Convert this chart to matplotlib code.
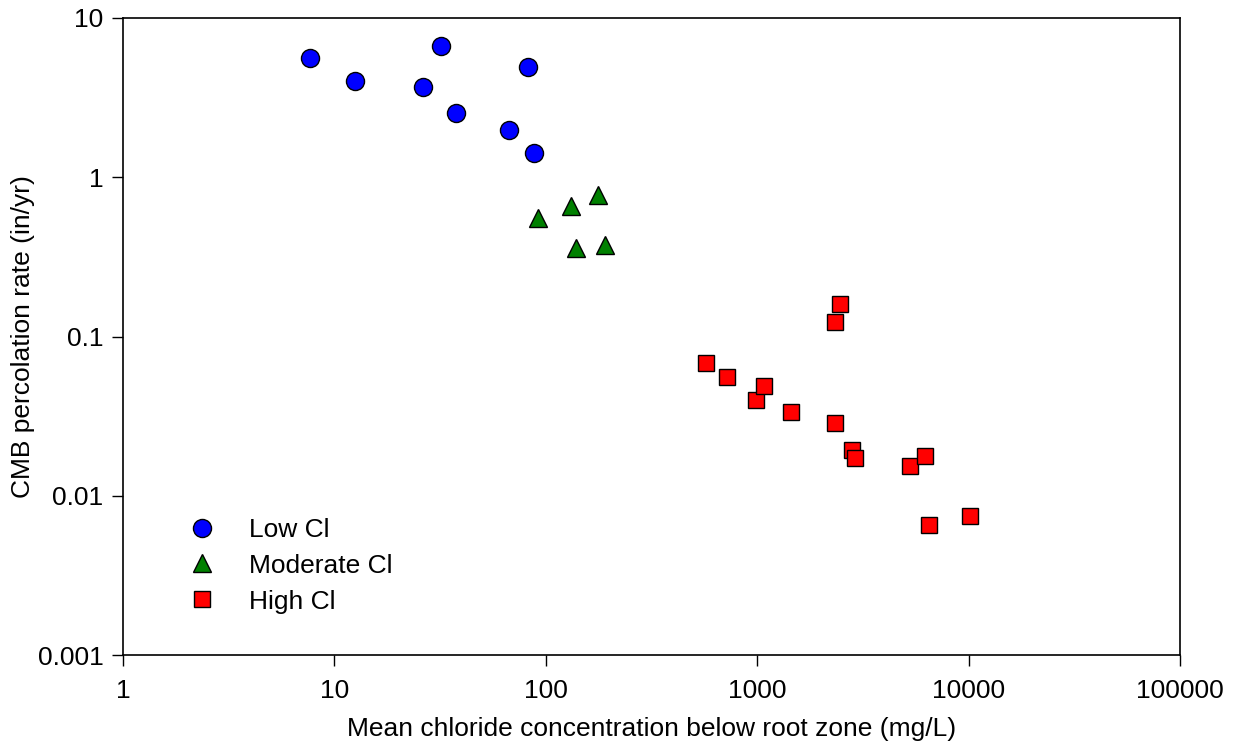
import numpy as np
import matplotlib.pyplot as plt

plt.rcParams['font.family'] = ['Liberation Sans', 'DejaVu Sans']

# Low Cl
low_x = [7.7, 12.5, 31.9, 26.2, 37.6, 82.4, 67, 88]
low_y = [5.6, 4.0, 6.67, 3.69, 2.53, 4.92, 1.98, 1.42]
# Moderate Cl
mod_x = [91.8, 131, 177, 139, 190]
mod_y = [0.555, 0.66, 0.77, 0.36, 0.376]
# High Cl
high_x = [573, 720, 987, 1077, 1445, 2335, 2466, 2335, 2806, 2900, 5280, 6220, 6500, 10160]
high_y = [0.068, 0.0557, 0.040, 0.0489, 0.0336, 0.123, 0.16, 0.0286, 0.0194, 0.0173,
          0.0154, 0.0178, 0.00655, 0.00746]

fig = plt.figure(figsize=(12.37, 7.47), dpi=100)
ax = fig.add_axes([0.0994, 0.123, 0.8546, 0.853])

ax.plot(low_x, low_y, 'o', color='#0000ff', mec='black', mew=1, ms=13, label='Low Cl', linestyle='none')
ax.plot(mod_x, mod_y, '^', color='#008000', mec='black', mew=1, ms=13, label='Moderate Cl', linestyle='none')
ax.plot(high_x, high_y, 's', color='#ff0000', mec='black', mew=1, ms=11.5, label='High Cl', linestyle='none')

ax.set_xscale('log')
ax.set_yscale('log')
ax.set_xlim(1, 100000)
ax.set_ylim(0.001, 10)
ax.set_xticks([1, 10, 100, 1000, 10000, 100000])
ax.set_xticklabels(['1', '10', '100', '1000', '10000', '100000'])
ax.set_yticks([0.001, 0.01, 0.1, 1, 10])
ax.set_yticklabels(['0.001', '0.01', '0.1', '1', '10'])
ax.minorticks_off()
ax.tick_params(direction='out', length=8, width=1, labelsize=19, pad=6)
ax.tick_params(axis='x', pad=9)
for s in ax.spines.values():
    s.set_linewidth(1.2)

ax.set_xlabel('Mean chloride concentration below root zone (mg/L)', fontsize=19, labelpad=10)
ax.set_ylabel('CMB percolation rate (in/yr)', fontsize=19, labelpad=2)

ax.legend(loc='lower left', bbox_to_anchor=(0.037, 0.028), frameon=False, fontsize=19,
          handletextpad=1.2, labelspacing=0.45, handlelength=1.2)

fig.savefig('out.png', dpi=100)
